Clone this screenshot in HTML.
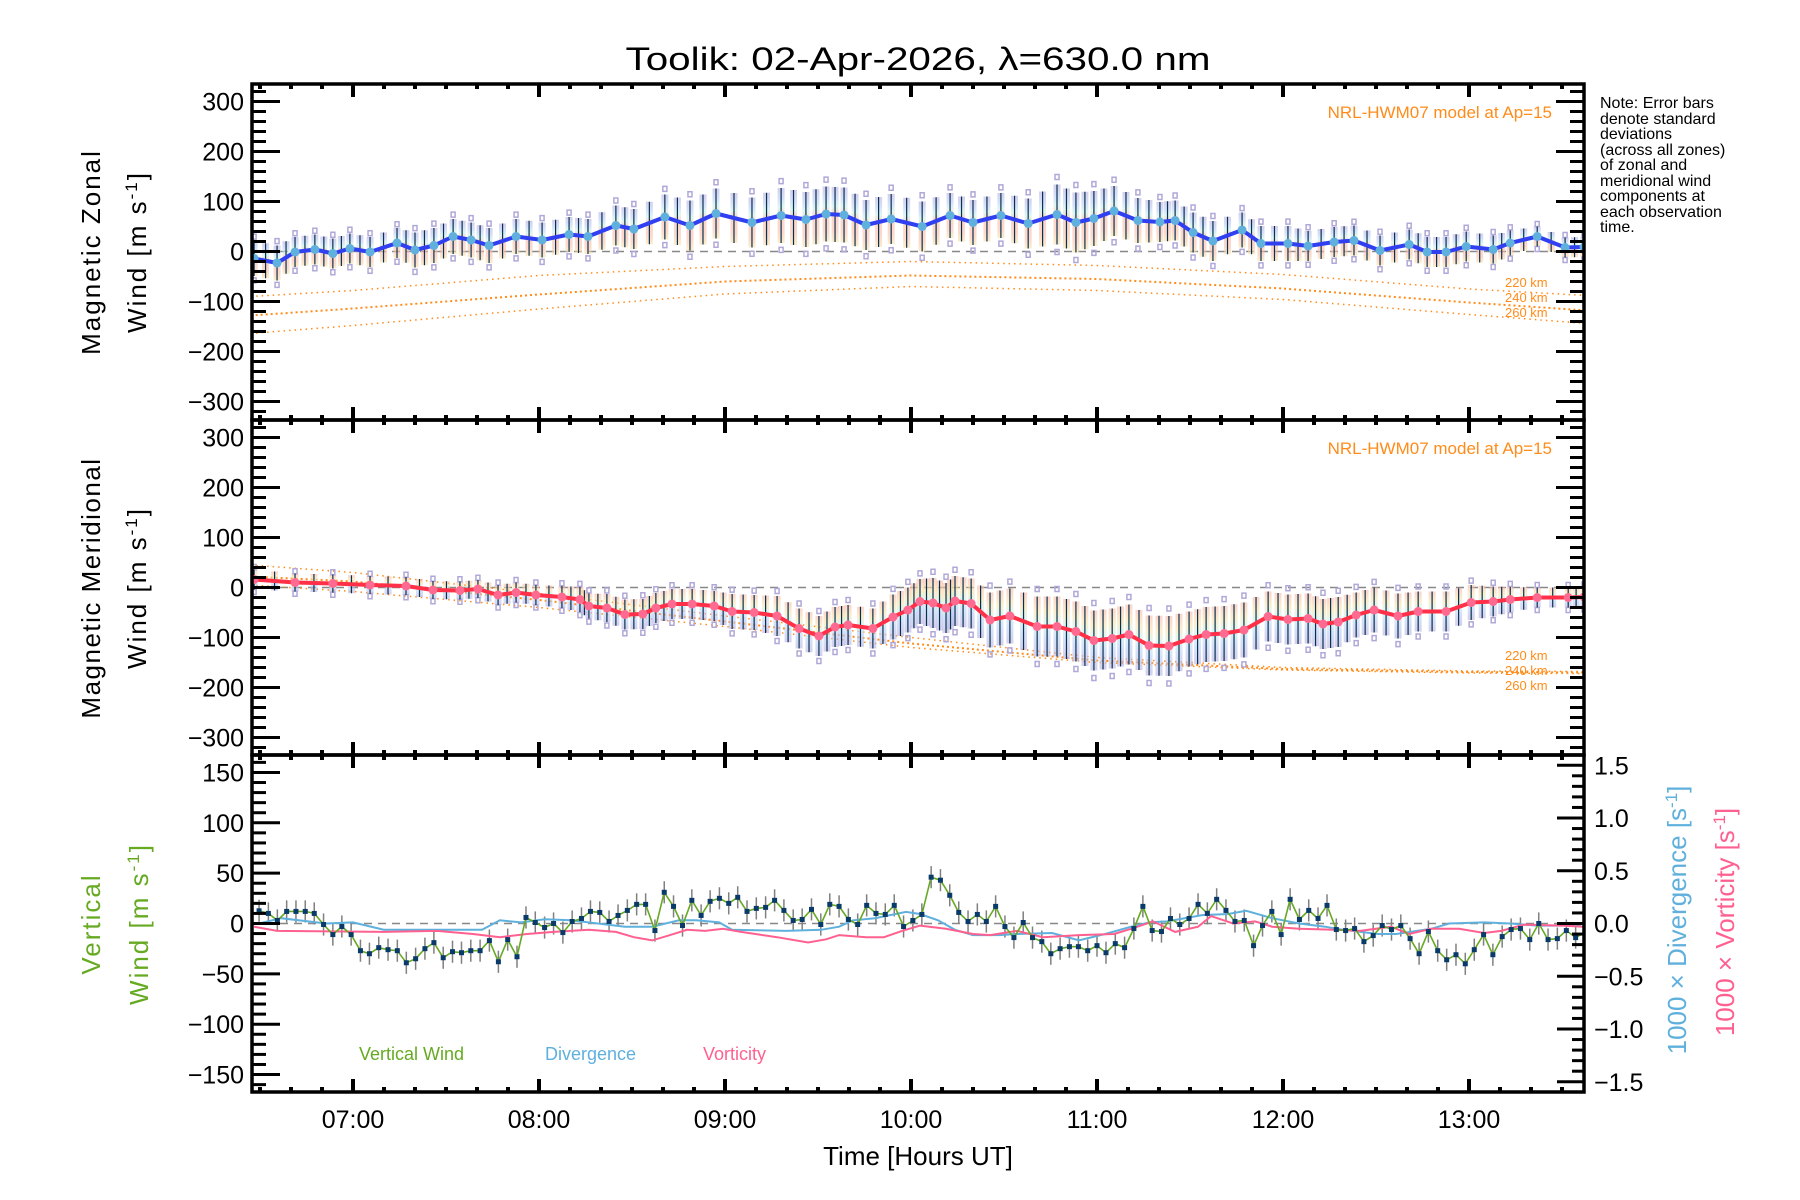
<!DOCTYPE html>
<html><head><meta charset="utf-8"><title>Toolik wind chart</title>
<style>
html,body{margin:0;padding:0;background:#fff;}
svg{display:block;font-family:"Liberation Sans","DejaVu Sans",sans-serif;}
</style></head>
<body>
<svg id="chart" width="1800" height="1200" viewBox="0 0 1800 1200" xmlns="http://www.w3.org/2000/svg">
<defs>
<clipPath id="c1"><rect x="252" y="84" width="1332" height="336"/></clipPath>
<clipPath id="c2"><rect x="252" y="420" width="1332" height="335"/></clipPath>
<clipPath id="c3"><rect x="252" y="755" width="1332" height="337"/></clipPath>
<linearGradient id="gz" x1="0" y1="0" x2="0" y2="1">
<stop offset="0" stop-color="#b8b0e0"/><stop offset="0.2" stop-color="#b8ccf6"/><stop offset="0.35" stop-color="#c8f0e8"/><stop offset="0.5" stop-color="#f9b8a8"/><stop offset="0.8" stop-color="#f9c0a8"/><stop offset="1" stop-color="#f8e2a8"/></linearGradient>
<linearGradient id="gm" x1="0" y1="0" x2="0" y2="1">
<stop offset="0" stop-color="#f9b8a8"/><stop offset="0.25" stop-color="#f8e2a8"/><stop offset="0.45" stop-color="#c8f0e8"/><stop offset="0.7" stop-color="#b8ccf6"/><stop offset="1" stop-color="#b8b0e0"/></linearGradient>
</defs>
<text x="918" y="70" font-size="32" text-anchor="middle" textLength="585" lengthAdjust="spacingAndGlyphs">Toolik: 02-Apr-2026, λ=630.0 nm</text>
<g id="p1"></g>
<g id="p2"></g>
<g id="p3"></g>
<g id="axes"></g>

<text transform="translate(100,252) rotate(-90)" font-size="26" text-anchor="middle" letter-spacing="2">Magnetic Zonal</text>
<text transform="translate(146,252) rotate(-90)" font-size="26" text-anchor="middle" letter-spacing="2">Wind [m s<tspan baseline-shift="super" font-size="17">-1</tspan>]</text>
<text transform="translate(100,588) rotate(-90)" font-size="26" text-anchor="middle" letter-spacing="1.5">Magnetic Meridional</text>
<text transform="translate(146,588) rotate(-90)" font-size="26" text-anchor="middle" letter-spacing="2">Wind [m s<tspan baseline-shift="super" font-size="17">-1</tspan>]</text>
<text transform="translate(100,924) rotate(-90)" font-size="26" text-anchor="middle" fill="#66aa22" letter-spacing="2">Vertical</text>
<text transform="translate(148,924) rotate(-90)" font-size="26" text-anchor="middle" fill="#66aa22" letter-spacing="2">Wind [m s<tspan baseline-shift="super" font-size="17">-1</tspan>]</text>
<text transform="translate(1686,920) rotate(-90)" font-size="26" text-anchor="middle" fill="#5fb0dd">1000 × Divergence [s<tspan baseline-shift="super" font-size="17">-1</tspan>]</text>
<text transform="translate(1734,922) rotate(-90)" font-size="26" text-anchor="middle" fill="#ff6090">1000 × Vorticity [s<tspan baseline-shift="super" font-size="17">-1</tspan>]</text>
<text x="918" y="1165" font-size="26" text-anchor="middle">Time [Hours UT]</text>

<text x="1552" y="118" font-size="17" fill="#ff8c1a" text-anchor="end">NRL-HWM07 model at Ap=15</text>
<text x="1552" y="454" font-size="17" fill="#ff8c1a" text-anchor="end">NRL-HWM07 model at Ap=15</text>
<g font-size="13" fill="#ff8c1a">
<text x="1505" y="287">220 km</text><text x="1505" y="302">240 km</text><text x="1505" y="317">260 km</text></g>
<g font-size="13" fill="#ff8c1a">
<text x="1505" y="660">220 km</text><text x="1505" y="675">240 km</text><text x="1505" y="690">260 km</text></g>
<g font-size="16">
<text x="1600" y="108">Note: Error bars</text><text x="1600" y="124">denote standard</text><text x="1600" y="139">deviations</text><text x="1600" y="155">(across all zones)</text><text x="1600" y="170">of zonal and</text><text x="1600" y="186">meridional wind</text><text x="1600" y="201">components at</text><text x="1600" y="217">each observation</text><text x="1600" y="232">time.</text></g>
<g font-size="18">
<text x="359" y="1060" fill="#66aa22">Vertical Wind</text>
<text x="545" y="1060" fill="#5fb0dd">Divergence</text>
<text x="703" y="1060" fill="#ff6090">Vorticity</text></g>
</svg>
<script>
// ---- data (time in minutes after 06:00 UT) ----
const zonalTime=[28.1,35.5,41.3,47.7,53.5,59.0,65.5,74.2,80.0,86.1,92.3,98.1,103.9,112.6,121.0,129.7,135.8,144.8,150.6,160.6,168.7,177.1,188.7,198.1,206.1,212.6,218.4,225.5,233.6,243.6,252.6,260.0,269.0,277.8,287.1,293.2,299.0,305.5,313.2,320.3,325.2,331.0,337.4,346.8,352.9,361.6,368.1,376.5,382.9,391.3,400.7,406.5,412.6,419.1,427.8,433.3,442.0,451.0,457.1];
const zonalWind=[-14,-23,-1,4,-4,6,-1,17,3,12,30,23,12,30,23,34,30,52,45,69,52,76,58,72,64,75,73,53,65,50,72,58,72,56,74,58,66,81,62,59,62,38,21,43,16,16,11,19,22,2,14,-1,-1,10,4,17,30,8,9];
const zonalSd=[35,35,30,30,30,30,30,30,35,35,35,35,35,35,35,35,35,40,40,45,50,50,50,55,55,55,55,50,50,50,45,45,45,50,60,60,55,50,45,40,40,40,40,35,35,35,30,30,30,30,30,30,30,30,28,25,20,20,20];
const merTime=[28.1,41.3,53.5,65.5,77.1,85.8,94.5,100.3,106.8,112.6,119.0,127.4,133.2,136.1,141.9,147.7,153.5,157.7,162.9,169.4,176.5,182.3,189.4,196.8,203.9,210.3,215.5,219.7,227.7,234.2,239.0,242.9,247.1,251.3,254.2,259.4,265.5,271.9,280.7,287.1,293.2,299.0,304.9,310.3,316.8,323.2,329.7,335.2,341.0,347.4,355.2,361.6,368.1,372.9,377.8,383.6,389.4,397.1,403.6,412.6,420.7,427.8,433.3,442.0,452.0,457.1];
const merWind=[16,10,8,5,3,-5,-6,-3,-15,-10,-15,-19,-24,-37,-41,-54,-53,-41,-33,-33,-37,-48,-50,-57,-82,-97,-79,-75,-82,-59,-45,-28,-31,-41,-27,-32,-65,-57,-78,-78,-88,-106,-102,-94,-116,-117,-103,-94,-92,-85,-58,-64,-62,-73,-69,-55,-45,-57,-48,-48,-30,-28,-24,-20,-20,-19];
const merSd=[20,18,18,18,18,18,18,18,20,20,20,22,25,25,28,30,30,30,30,30,30,35,35,40,40,40,40,40,40,45,45,45,50,50,50,50,55,55,60,60,60,60,60,60,60,60,55,55,55,55,50,50,50,50,50,45,45,45,40,40,35,30,25,20,20,20];
const modelTime=[27,60,120,180,240,300,360,420,458];
const zonal220=[-90,-78,-48,-30,-20,-28,-46,-75,-88];
const zonal240=[-128,-114,-86,-60,-48,-55,-74,-102,-118];
const zonal260=[-164,-148,-115,-85,-70,-78,-96,-126,-144];
const mer220=[45,30,-12,-57,-100,-140,-160,-167,-168];
const mer240=[22,12,-25,-68,-112,-146,-163,-169,-170];
const mer260=[5,-8,-40,-78,-120,-150,-165,-171,-172];
const vertTime=[29.7,32.7,35.6,38.6,41.6,44.6,47.5,50.5,53.5,56.4,59.4,62.4,65.3,68.3,71.3,74.3,77.2,80.2,83.2,86.1,89.1,92.1,95.0,98.0,101.0,104.0,106.9,109.9,112.9,115.8,118.8,121.8,124.7,127.7,130.7,133.7,136.6,139.6,142.6,145.5,148.5,151.5,154.4,157.4,160.4,163.4,166.3,169.3,172.3,175.2,178.2,181.2,184.1,187.1,190.1,193.1,196.0,199.0,202.0,204.9,207.9,210.9,213.8,216.8,219.8,222.8,225.7,228.7,231.7,234.6,237.6,240.6,243.5,246.5,249.5,252.5,255.4,258.4,261.4,264.3,267.3,270.3,273.2,276.2,279.2,282.2,285.1,288.1,291.1,294.0,297.0,300.0,302.9,305.9,308.9,311.9,314.8,317.8,320.8,323.7,326.7,329.7,332.6,335.6,338.6,341.6,344.5,347.5,350.5,353.4,356.4,359.4,362.3,365.3,368.3,371.3,374.2,377.2,380.2,383.1,386.1,389.1,392.0,395.0,398.0,401.0,403.9,406.9,409.9,412.8,415.8,418.8,421.7,424.7,427.7,430.7,433.6,436.6,439.6,442.5,445.5,448.5,451.4,454.4,457.4];
const vertWind=[12.6,10,3,12,12,12,10,-1,-11,-3,-11,-27,-30,-24,-26,-27,-39,-35,-25,-19,-34,-28,-29,-27,-27,-17,-38,-16,-33,6,1,-4,0,-9,2,5,12,11,2,8,13,19,19,-7,31,17,-2,23,8,22,25,20,26,12,15,16,23,13,3,4,14,-1,19,17,4,-1,18,10,9,18,-3,3,9,46,43,28,11,2,9,2,17,-3,-14,1,-14,-18,-30,-25,-23,-23,-27,-22,-29,-20,-24,-5,17,-7,-8,5,-1,5,19,10,24,13,2,3,-22,-2,12,-11,24,4,13,5,18,-6,-7,-5,-18,-12,-2,-6,-2,-15,-30,-8,-27,-36,-31,-40,-26,-11,-31,-13,-6,-5,-16,0,-16,-15,-7,-14,-9];
const vertErr=11;
const divTime=[29.7,36.8,51.3,60,70,101.6,107.4,114.2,121.9,130.3,139,147.7,156.5,165.2,170.7,178.1,182.3,199.7,211,216.8,221.3,228.4,238.4,242.9,248.7,254.2,260,268.4,274.2,285.5,294.2,302.6,311,316.8,322.6,333.9,342.3,348.1,356.5,365.2,373.6,379.4,390.7,396.5,407.8,413.6,424.9,433.3,442,456.1];
const divVal=[0,0.05,0,0.01,-0.06,-0.06,0.03,0.01,0.04,0.03,0,-0.03,-0.03,0.03,0.03,0.01,-0.06,-0.07,-0.06,-0.03,0.03,0.05,0.11,0.09,0.03,-0.06,-0.11,-0.11,-0.1,-0.09,-0.16,-0.1,-0.03,0.01,0.02,0.08,0.09,0.12,0.05,0,-0.03,-0.06,-0.1,-0.1,-0.05,0,0.01,0,-0.02,-0.02];
const vortTime=[28.1,35.5,70,87.1,98.7,107.4,116.1,124.8,136.1,144.8,150.6,156.5,162.3,167.7,173.6,179.4,185.2,196.8,206.8,212.6,216.8,225.5,231.3,237.1,242.9,251.3,260,265.5,274.2,282.6,294.2,305.5,311,318.1,325.2,332.6,336.8,343.9,351,356.5,365.2,376.5,384.9,394.9,400.7,407.8,416.8,424.9,430.4,437.8,450.3,457.1];
const vortVal=[-0.03,-0.07,-0.08,-0.07,-0.1,-0.13,-0.1,-0.08,-0.06,-0.08,-0.13,-0.16,-0.11,-0.06,-0.07,-0.05,-0.08,-0.13,-0.18,-0.15,-0.11,-0.13,-0.13,-0.07,-0.02,-0.05,-0.1,-0.11,-0.07,-0.13,-0.11,-0.1,-0.05,0.02,-0.08,-0.03,0.07,0,0.02,-0.03,-0.05,-0.06,-0.07,-0.03,-0.1,-0.05,-0.05,-0.09,-0.07,-0.01,-0.02,-0.03];
const hourLabels=["07:00","08:00","09:00","10:00","11:00","12:00","13:00"];
const windTicks=[-300,-200,-100,0,100,200,300];
const vertTicks=[-150,-100,-50,0,50,100,150];
const rightTicks=["-1.5","-1.0","-0.5","0.0","0.5","1.0","1.5"];

// ---- scales ----
const L=252,R=1584;
function X(m){return 353+(m-60)*3.1;}
const Y1=v=>251.5-v*0.5, Y2=v=>587.5-v*0.5, Y3=v=>923.5-v*1.007, Y3r=v=>923.5-v*105.5;
const NS="http://www.w3.org/2000/svg";
function mk(tag,attrs,parent){const e=document.createElementNS(NS,tag);for(const k in attrs)e.setAttribute(k,attrs[k]);parent.appendChild(e);return e;}
function pts(t,v,fy){return t.map((m,i)=>X(m).toFixed(1)+","+fy(v[i]).toFixed(1)).join(" ");}

function windPanel(gid,clip,time,val,sd,fy,grad,lineCol,dotCol,models,mname){
  const g=document.getElementById(gid);
  const c=mk("g",{"clip-path":"url(#"+clip+")"},g);
  mk("line",{x1:L,x2:R,y1:fy(0),y2:fy(0),stroke:"#888","stroke-width":1.5,"stroke-dasharray":"8,6"},c);
  models.forEach((m,k)=>{
    const pl=mk("polyline",{points:pts(modelTime,m,fy),fill:"none",stroke:"#ff8c1a","stroke-width":k==1?2:1.5,"stroke-dasharray":k==1?"2,3":"1.5,4"},c);
    
    
  });
  const bars=[];
  for(let i=0;i<time.length;i++){
    bars.push([time[i],val[i],sd[i]]);
    if(i<time.length-1)bars.push([(time[i]+time[i+1])/2,(val[i]+val[i+1])/2,(sd[i]+sd[i+1])/2]);
  }
  bars.forEach((b,i)=>{
    const x=X(b[0]),top=fy(b[1]+b[2]),bot=fy(b[1]-b[2]);
    const r=mk("rect",{x:x-3.5,y:top,width:7,height:bot-top,fill:"url(#"+grad+")",opacity:0.6},c);
    
    
    if(i%2==0){
      [fy(b[1]+b[2]*1.25),fy(b[1]-b[2]*1.25)].forEach(yy=>{
        const s=mk("rect",{x:x-2,y:yy-2.5,width:4,height:5,fill:"none",stroke:"#b0a8d8","stroke-width":1.5},c);
        
        
      });
    }
    const l=mk("line",{x1:x,x2:x,y1:top,y2:bot,stroke:"#0a3050","stroke-width":1.2},c);
    
    
  });
  const ln=mk("polyline",{points:pts(time,val,fy),fill:"none",stroke:lineCol,"stroke-width":4,"stroke-linejoin":"round"},c);
  
  
  time.forEach((m,i)=>{
    const d=mk("circle",{cx:X(m),cy:fy(val[i]),r:4.5,fill:dotCol},c);
    
    
  });
}
windPanel("p1","c1",zonalTime,zonalWind,zonalSd,Y1,"gz","#3040f0","#5fb0dd",[zonal220,zonal240,zonal260],"zonal");
windPanel("p2","c2",merTime,merWind,merSd,Y2,"gm","#ff3048","#ff6a90",[mer220,mer240,mer260],"meridional");

// panel 3
(function(){
  const g=document.getElementById("p3");
  const c=mk("g",{"clip-path":"url(#c3)"},g);
  mk("line",{x1:L,x2:R,y1:Y3(0),y2:Y3(0),stroke:"#888","stroke-width":1.5,"stroke-dasharray":"8,6"},c);
  vertTime.forEach((m,i)=>{
    const e=mk("line",{x1:X(m),x2:X(m),y1:Y3(vertWind[i]+vertErr),y2:Y3(vertWind[i]-vertErr),stroke:"#808080","stroke-width":1.5},c);
    
    
  });
  const dv=mk("polyline",{points:pts(divTime,divVal,Y3r),fill:"none",stroke:"#5fb0dd","stroke-width":2},c);
  
  
  const vo=mk("polyline",{points:pts(vortTime,vortVal,Y3r),fill:"none",stroke:"#ff6090","stroke-width":2},c);
  
  
  const vw=mk("polyline",{points:pts(vertTime,vertWind,Y3),fill:"none",stroke:"#66aa22","stroke-width":1.6},c);
  
  
  vertTime.forEach((m,i)=>{
    const p=mk("rect",{x:X(m)-2.5,y:Y3(vertWind[i])-2.5,width:5,height:5,fill:"#0a3a6a"},c);
    
    
  });
})();

// axes
(function(){
  const g=document.getElementById("axes");
  const panels=[[84,420,Y1,20,windTicks,335],[420,755,Y2,20,windTicks,335],[755,1092,Y3,10,vertTicks,168]];
  panels.forEach((p,k)=>{
    const [top,bot,fy,minor,majors,lim]=p;
    for(let v=-lim;v<=lim;v++){
      if(v%minor!==0)continue;
      const y=fy(v); if(y<top+1||y>bot-1)continue;
      const isMaj=majors.indexOf(v)>=0;
      const len=isMaj?28:14;
      mk("line",{x1:L,x2:L+len,y1:y,y2:y,stroke:"#000","stroke-width":3},g);
      if(k<2) mk("line",{x1:R,x2:R-len,y1:y,y2:y,stroke:"#000","stroke-width":3},g);
    }
    majors.forEach(v=>{
      const t=mk("text",{x:244,y:fy(v)+9,"font-size":25,"text-anchor":"end"},g);
      t.textContent=v<0?"\u2212"+Math.abs(v):String(v);
      
      
    });
    for(let m=30;m<=457;m+=10){
      const x=X(m); const maj=(m%60===0);
      const ln=maj?13:5;
      mk("line",{x1:x,x2:x,y1:top,y2:top+ln,stroke:"#000","stroke-width":4},g);
      mk("line",{x1:x,x2:x,y1:bot,y2:bot-ln,stroke:"#000","stroke-width":4},g);
    }
    mk("rect",{x:L,y:top,width:R-L,height:bot-top,fill:"none",stroke:"#000","stroke-width":3.5},g);
  });
  for(let i=-16;i<=16;i++){
    const v=i/10, y=Y3r(v); if(y<756||y>1091)continue;
    const maj=(i%5===0);
    mk("line",{x1:R,x2:R-(maj?27:12),y1:y,y2:y,stroke:"#000","stroke-width":3},g);
  }
  rightTicks.forEach(s=>{
    const v=parseFloat(s);
    const t=mk("text",{x:1594,y:Y3r(v)+9,"font-size":25},g);
    t.textContent=s.replace("-","\u2212");
    
    
  });
  hourLabels.forEach((h,i)=>{
    const t=mk("text",{x:X(60*(i+1)),y:1128,"font-size":25,"text-anchor":"middle"},g);
    t.textContent=h;
    
    
  });
})();
</script>
</body></html>
